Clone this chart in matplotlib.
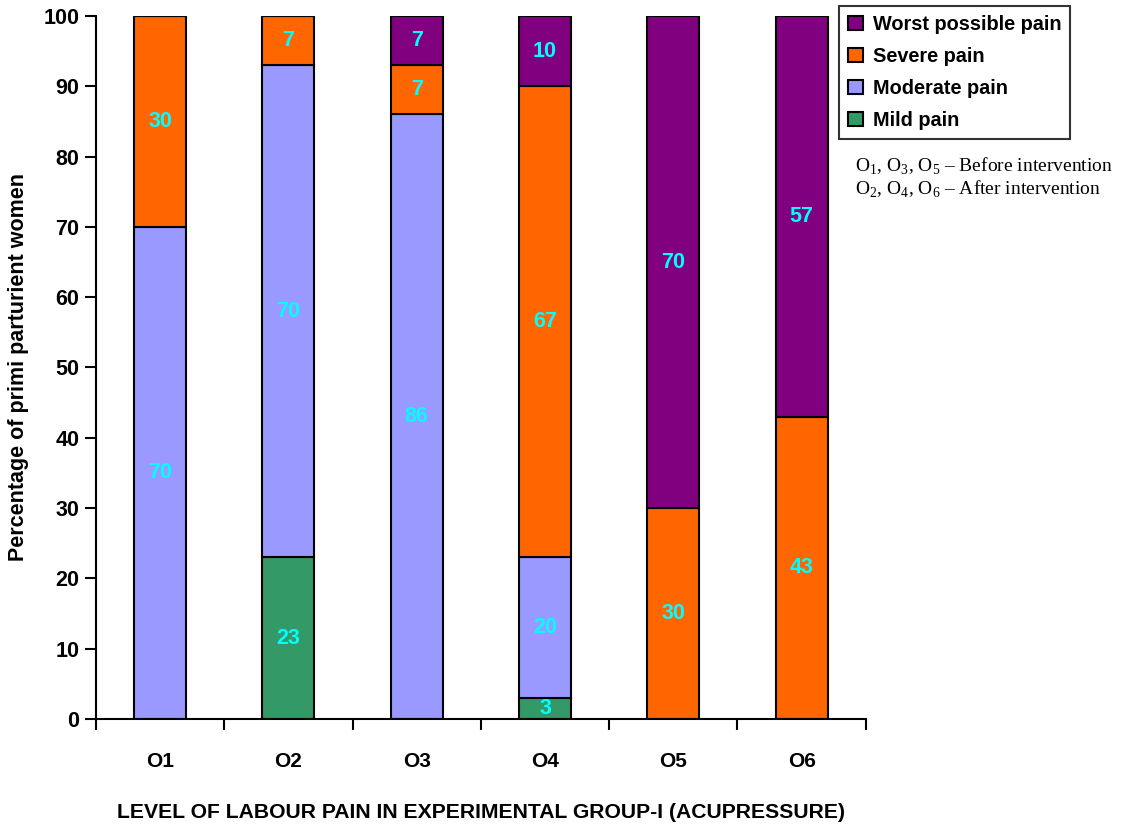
import numpy as np
import matplotlib.pyplot as plt
from matplotlib.patches import Patch

plt.rcParams['font.family'] = ['Liberation Sans', 'DejaVu Sans']
plt.rcParams['mathtext.fontset'] = 'custom'
plt.rcParams['mathtext.rm'] = 'Liberation Serif'

# Percentage of women in each pain level, per observation
groups = ['O1', 'O2', 'O3', 'O4', 'O5', 'O6']
mild = [0, 23, 0, 3, 0, 0]
moderate = [70, 70, 86, 20, 0, 0]
severe = [30, 7, 7, 67, 30, 43]
worst = [0, 0, 7, 10, 70, 57]

levels = ['Mild pain', 'Moderate pain', 'Severe pain', 'Worst possible pain']
colors = ['#339966', '#9999FF', '#FF6600', '#800080']

fig = plt.figure(figsize=(11.27, 8.27), dpi=100)
ax = fig.add_axes([0.0852, 0.1306, 0.683, 0.8501])

x = np.arange(len(groups))
bottom = np.zeros(len(groups))
for vals, col in zip([mild, moderate, severe, worst], colors):
    vals = np.array(vals, dtype=float)
    ax.bar(x, vals, 0.405, bottom=bottom, color=col, edgecolor='black', linewidth=1.5)
    for xi, v, b in zip(x, vals, bottom):
        if v > 0:
            ax.text(xi, b + v / 2, f'{int(v)}', ha='center', va='center',
                    color='#00FFFF', fontsize=15.5, fontweight='bold')
    bottom += vals

ax.set_xlim(-0.5, len(groups) - 0.5)
ax.set_ylim(0, 100)
ax.set_yticks(range(0, 101, 10))
ax.tick_params(axis='y', direction='out', length=8, width=1.5, labelsize=15.5, pad=4)
for lab in ax.get_yticklabels():
    lab.set_fontweight('bold')

# group boundaries carry the tick marks, names sit between them
ax.set_xticks(np.arange(-0.5, len(groups), 1.0))
ax.set_xticklabels([])
ax.tick_params(axis='x', direction='out', length=8, width=1.5)
ax.set_xticks(x, minor=True)
ax.set_xticklabels(groups, minor=True, fontsize=15, fontweight='bold')
ax.tick_params(axis='x', which='minor', length=0, pad=24)

for side in ['top', 'right']:
    ax.spines[side].set_visible(False)
for side in ['left', 'bottom']:
    ax.spines[side].set_linewidth(1.5)

ax.set_ylabel('Percentage of primi parturient women', fontsize=15.5, fontweight='bold', labelpad=10)
fig.text(0.4268, 0.018, 'LEVEL OF LABOUR PAIN IN EXPERIMENTAL GROUP-I (ACUPRESSURE)',
         fontsize=15.2, fontweight='bold', ha='center', va='center')

handles = [Patch(facecolor=c, edgecolor='black', linewidth=1.5, label=l)
           for c, l in zip(colors[::-1], levels[::-1])]
leg = fig.legend(handles=handles, loc='upper left', bbox_to_anchor=(0.7356, 1.005),
                 frameon=True, fancybox=False, edgecolor='black',
                 prop={'weight': 'bold', 'size': 14.3}, handlelength=0.75, handleheight=0.75,
                 handletextpad=0.5, labelspacing=0.66, borderpad=0.45)
leg.get_frame().set_linewidth(1.5)

note = dict(fontsize=14, family='Liberation Serif', ha='left', va='top')
fig.text(0.759, 0.812, r'O$_1$, O$_3$, O$_5$ – Before intervention', **note)
fig.text(0.759, 0.784, r'O$_2$, O$_4$, O$_6$ – After intervention', **note)

fig.savefig('out.png', dpi=100)
